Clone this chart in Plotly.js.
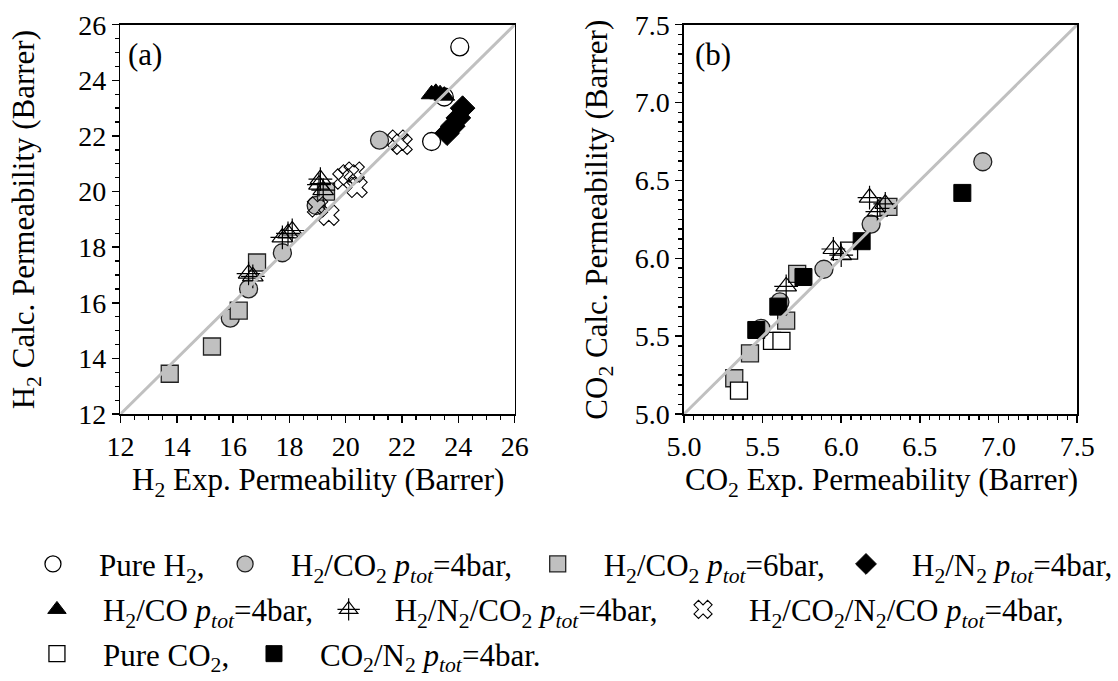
<!DOCTYPE html>
<html>
<head>
<meta charset="utf-8">
<script src="https://cdn.plot.ly/plotly-3.0.1.min.js"></script>
<style>
  html, body { margin: 0; padding: 0; background: #fff; }
  #chart { width: 1118px; height: 681px; }
</style>
</head>
<body>
<div id="chart"></div>
<script>
// ---- Panel (a): H2 permeability, experimental vs. calculated (Barrer) ----
const pureH2Exp      = [23.5, 24.05, 23.05];
const pureH2Calc     = [23.4, 25.2, 21.8];
const h2co2p4Exp     = [15.9, 16.55, 17.75, 18.95, 21.2];
const h2co2p4Calc    = [15.45, 16.5, 17.8, 19.5, 21.85];
const h2co2p6Exp     = [13.75, 15.25, 16.2, 16.85, 19.3];
const h2co2p6Calc    = [13.45, 14.43, 15.72, 17.45, 20.0];
const h2coExp        = [23.05, 23.2, 23.35, 23.5];
const h2coCalc       = [23.5, 23.55, 23.5, 23.45];
const h2n2Exp        = [23.6, 23.8, 24.0, 24.15];
const h2n2Calc       = [22.1, 22.35, 22.65, 23.0];
const h2n2co2Exp     = [16.55, 16.7, 17.75, 17.95, 18.1, 19.05, 19.1, 19.2];
const h2n2co2Calc    = [17.05, 16.95, 18.35, 18.5, 18.6, 20.25, 20.45, 20.05];
const h2quatExp      = [19.0, 19.4, 19.9, 20.1, 20.3, 20.4, 21.85, 22.0];
const h2quatCalc     = [19.45, 19.15, 20.45, 20.6, 20.7, 20.15, 21.85, 21.7];

// ---- Panel (b): CO2 permeability, experimental vs. calculated (Barrer) ----
const co2h2p4Exp     = [5.49, 5.61, 5.89, 6.19, 6.90];
const co2h2p4Calc    = [5.55, 5.72, 5.93, 6.22, 6.62];
const co2h2p6Exp     = [5.32, 5.42, 5.65, 5.72, 6.30];
const co2h2p6Calc    = [5.23, 5.39, 5.60, 5.90, 6.33];
const co2ternExp     = [5.65, 5.95, 6.00, 6.18, 6.23, 6.28];
const co2ternCalc    = [5.82, 6.06, 6.02, 6.39, 6.30, 6.35];
const pureCO2Exp     = [5.35, 5.56, 5.62, 6.05];
const pureCO2Calc    = [5.15, 5.47, 5.47, 6.05];
const co2n2Exp       = [5.46, 5.60, 5.76, 6.13, 6.77];
const co2n2Calc      = [5.54, 5.69, 5.88, 6.11, 6.42];

// Axis ranges (the parity line y = x spans the full range)
const rangeA = [12, 26];
const rangeB = [5, 7.5];

// Legend labels
const lblPureH2   = 'Pure H<sub>2</sub>,';
const lblH2CO2p4  = 'H<sub>2</sub>/CO<sub>2</sub> <i>p<sub>tot</sub></i>=4bar,';
const lblH2CO2p6  = 'H<sub>2</sub>/CO<sub>2</sub> <i>p<sub>tot</sub></i>=6bar,';
const lblH2N2     = 'H<sub>2</sub>/N<sub>2</sub> <i>p<sub>tot</sub></i>=4bar,';
const lblH2CO     = 'H<sub>2</sub>/CO <i>p<sub>tot</sub></i>=4bar,';
const lblH2N2CO2  = 'H<sub>2</sub>/N<sub>2</sub>/CO<sub>2</sub> <i>p<sub>tot</sub></i>=4bar,';
const lblQuat     = 'H<sub>2</sub>/CO<sub>2</sub>/N<sub>2</sub>/CO <i>p<sub>tot</sub></i>=4bar,';
const lblPureCO2  = 'Pure CO<sub>2</sub>,';
const lblCO2N2    = 'CO<sub>2</sub>/N<sub>2</sub> <i>p<sub>tot</sub></i>=4bar.';

const FONT = '"Liberation Serif", "Times New Roman", serif';
const GREY = '#c0c0c0';
const W = 1118, H = 681;
const px = v => v / W;
const py = v => (H - v) / H;

// Marker styles per series
const sty = {
  pureH2:  { symbol: 'circle', size: 18, color: '#ffffff', line: { color: '#000', width: 1.3 } },
  h2co2p4: { symbol: 'circle', size: 18, color: GREY, line: { color: '#222', width: 1.3 } },
  h2co2p6: { symbol: 'square', size: 17, color: GREY, line: { color: '#222', width: 1.3 } },
  h2n2:    { symbol: 'diamond', size: 19, color: '#000', line: { color: '#000', width: 1 } },
  h2co:    { symbol: 'triangle-up', size: 18, color: '#000', line: { color: '#000', width: 1 } },
  tri:     { symbol: 'triangle-up-open', size: 18, color: '#000', line: { color: '#000', width: 1.2 } },
  triX:    { symbol: 'cross-thin-open', size: 17, color: '#000', line: { color: '#000', width: 1.2 } },
  quat:    { symbol: 'x-open', size: 18, color: '#000', line: { color: '#000', width: 1.1 } },
  pureCO2: { symbol: 'square', size: 17, color: '#ffffff', line: { color: '#000', width: 1.3 } },
  co2n2:   { symbol: 'square', size: 17, color: '#000', line: { color: '#000', width: 1 } }
};

function pts(x, y, marker, name, legend, xa, ya, show) {
  return {
    type: 'scatter', mode: 'markers', x: x, y: y, name: name,
    marker: marker, legend: legend, showlegend: show,
    xaxis: xa, yaxis: ya, hoverinfo: 'x+y'
  };
}

const traces = [
  // panel (a)
  pts(pureH2Exp, pureH2Calc, sty.pureH2, lblPureH2, 'legend', 'x', 'y', true),
  pts(h2co2p4Exp, h2co2p4Calc, sty.h2co2p4, lblH2CO2p4, 'legend2', 'x', 'y', true),
  pts(h2co2p6Exp, h2co2p6Calc, sty.h2co2p6, lblH2CO2p6, 'legend3', 'x', 'y', true),
  pts(h2n2co2Exp, h2n2co2Calc, sty.tri, lblH2N2CO2, 'legend6', 'x', 'y', true),
  pts(h2n2co2Exp, h2n2co2Calc, sty.triX, '', 'legend10', 'x', 'y', true),
  pts(h2quatExp, h2quatCalc, sty.quat, lblQuat, 'legend7', 'x', 'y', true),
  pts(h2coExp, h2coCalc, sty.h2co, lblH2CO, 'legend5', 'x', 'y', true),
  pts(h2n2Exp, h2n2Calc, sty.h2n2, lblH2N2, 'legend4', 'x', 'y', true),
  // panel (b)
  pts(co2h2p6Exp, co2h2p6Calc, sty.h2co2p6, lblH2CO2p6, 'legend3', 'x2', 'y2', false),
  pts(pureCO2Exp, pureCO2Calc, sty.pureCO2, lblPureCO2, 'legend8', 'x2', 'y2', true),
  pts(co2h2p4Exp, co2h2p4Calc, sty.h2co2p4, lblH2CO2p4, 'legend2', 'x2', 'y2', false),
  pts(co2ternExp, co2ternCalc, sty.tri, lblH2N2CO2, 'legend6', 'x2', 'y2', false),
  pts(co2ternExp, co2ternCalc, sty.triX, '', 'legend10', 'x2', 'y2', false),
  pts(co2n2Exp, co2n2Calc, sty.co2n2, lblCO2N2, 'legend9', 'x2', 'y2', true),
  // parity lines, drawn over the symbols
  { type: 'scatter', mode: 'lines', x: rangeA, y: rangeA, xaxis: 'x', yaxis: 'y',
    line: { color: GREY, width: 3 }, showlegend: false, hoverinfo: 'skip' },
  { type: 'scatter', mode: 'lines', x: rangeB, y: rangeB, xaxis: 'x2', yaxis: 'y2',
    line: { color: GREY, width: 3 }, showlegend: false, hoverinfo: 'skip' }
];

function axis(domain, range, dtick, minor, fmt, anchor) {
  return {
    domain: domain, range: range, dtick: dtick, tick0: range[0], anchor: anchor,
    ticks: 'outside', ticklen: 7, tickwidth: 1.5, tickcolor: '#000',
    showline: true, linecolor: '#000', linewidth: 1.6, mirror: true,
    showgrid: false, zeroline: false, tickformat: fmt,
    tickfont: { family: FONT, size: 28, color: '#000' },
    minor: { dtick: minor, tick0: range[0], ticks: 'outside', ticklen: 4, tickwidth: 1.3, tickcolor: '#000', showgrid: false }
  };
}

// One legend box per entry so each entry sits where it belongs in the key
const ITEMW = 82;
function leg(symX, y) {
  return {
    x: px(symX - (ITEMW / 2 + 5)), y: py(y), xanchor: 'left', yanchor: 'middle', orientation: 'h',
    bgcolor: 'rgba(0,0,0,0)', borderwidth: 0, itemwidth: ITEMW,
    font: { family: FONT, size: 31, color: '#000' }, itemclick: false, itemdoubleclick: false
  };
}

const ann = (text, x, y, opts) => Object.assign({
  text: text, x: px(x), y: py(y), xref: 'paper', yref: 'paper',
  xanchor: 'center', yanchor: 'middle',
  showarrow: false, font: { family: FONT, size: 31, color: '#000' }
}, opts || {});

const ROW1 = 571, ROW2 = 617, ROW3 = 662;

const layout = {
  width: W, height: H,
  margin: { l: 0, r: 0, t: 0, b: 0 },
  paper_bgcolor: '#fff', plot_bgcolor: '#fff',
  showlegend: true,
  xaxis:  axis([px(121), px(517)], rangeA, 2, 0.5, '', 'y'),
  yaxis:  axis([py(419), py(25)], rangeA, 2, 0.5, '', 'x'),
  xaxis2: axis([px(687), px(1082)], rangeB, 0.5, 0.0625, '.1f', 'y2'),
  yaxis2: axis([py(419), py(25)], rangeB, 0.5, 0.0625, '.1f', 'x2'),
  legend:   leg(53, ROW1),
  legend2:  leg(246, ROW1),
  legend3:  leg(560, ROW1),
  legend4:  leg(870, ROW1),
  legend5:  leg(57, ROW2),
  legend6:  leg(350, ROW2),
  legend7:  leg(706, ROW2),
  legend8:  leg(57, ROW3),
  legend9:  leg(275, ROW3),
  legend10: leg(350, ROW2),
  annotations: [
    ann('(a)', 127, 55, { xanchor: 'left' }),
    ann('(b)', 696, 55, { xanchor: 'left' }),
    ann('H<sub>2</sub> Calc. Permeability (Barrer)', 27, 222, { textangle: -90 }),
    ann('CO<sub>2</sub> Calc. Permeability (Barrer)', 602, 222, { textangle: -90 }),
    ann('H<sub>2</sub> Exp. Permeability (Barrer)', 319, 488),
    ann('CO<sub>2</sub> Exp. Permeability (Barrer)', 885, 488)
  ]
};

Plotly.newPlot('chart', traces, layout, { displayModeBar: false, staticPlot: true });
</script>
</body>
</html>
